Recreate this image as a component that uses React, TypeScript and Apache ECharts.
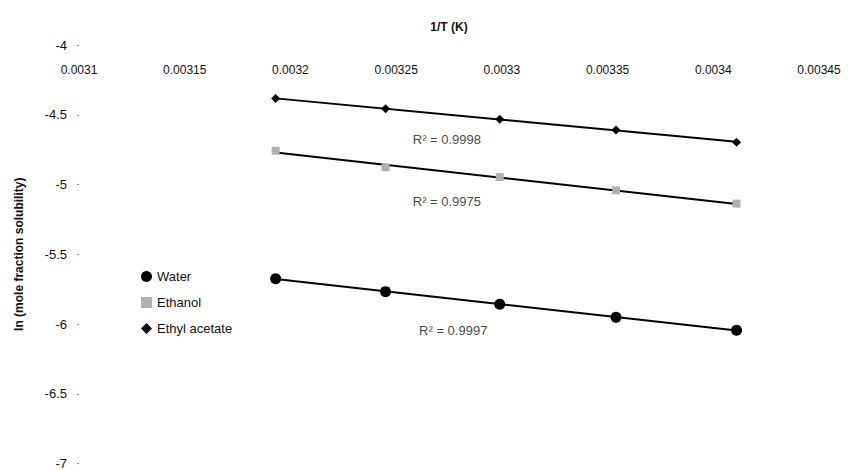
import React, { useEffect, useRef } from "react";
import * as echarts from "echarts";

// 1/T values (K^-1)
const xValues = [0.003193, 0.003245, 0.003299, 0.003354, 0.003411];
// ln(mole fraction solubility)
const waterY = [-5.675, -5.768, -5.858, -5.952, -6.045];
const ethanolY = [-4.758, -4.877, -4.947, -5.042, -5.137];
const ethylAcetateY = [-4.384, -4.457, -4.533, -4.609, -4.697];

const seriesNames = ["Water", "Ethanol", "Ethyl acetate"];
const r2Labels = ["R² = 0.9997", "R² = 0.9975", "R² = 0.9998"];
// annotation anchors in data coords [x, y]
const r2AnchorX = [0.003277, 0.003274, 0.003274];
const r2AnchorY = [-6.047, -5.123, -4.675];

const FONT = "'Liberation Sans', Arial, sans-serif";

function fitLine(xs: number[], ys: number[]): number[][] {
  const n = xs.length;
  const mx = xs.reduce((a, b) => a + b, 0) / n;
  const my = ys.reduce((a, b) => a + b, 0) / n;
  let sxy = 0;
  let sxx = 0;
  for (let i = 0; i < n; i++) {
    sxy += (xs[i] - mx) * (ys[i] - my);
    sxx += (xs[i] - mx) * (xs[i] - mx);
  }
  const slope = sxy / sxx;
  const icpt = my - slope * mx;
  const x0 = Math.min(...xs);
  const x1 = Math.max(...xs);
  return [
    [x0, icpt + slope * x0],
    [x1, icpt + slope * x1],
  ];
}

export default function App() {
  const ref = useRef<HTMLDivElement>(null);

  useEffect(() => {
    if (!ref.current) return;
    const chart = echarts.init(ref.current, undefined, { renderer: "svg" });
    const allY = [waterY, ethanolY, ethylAcetateY];
    const symbols = ["circle", "rect", "diamond"];
    const sizes = [11, 8, 9];
    const colors = ["#000000", "#b0b0b0", "#000000"];

    const scatterSeries = allY.map((ys, i) => ({
      name: seriesNames[i],
      type: "scatter",
      symbol: symbols[i],
      symbolSize: sizes[i],
      itemStyle: { color: colors[i], opacity: 1 },
      data: xValues.map((x, j) => [x, ys[j]]),
      z: 3,
    }));

    const trendSeries = allY.map((ys, i) => ({
      name: "trend" + i,
      type: "line",
      symbol: "none",
      lineStyle: { color: "#000", width: 2 },
      data: fitLine(xValues, ys),
      z: 2,
    }));

    const annotationSeries = {
      name: "r2",
      type: "scatter",
      symbolSize: 0,
      silent: true,
      data: r2Labels.map((t, i) => ({
        value: [r2AnchorX[i], r2AnchorY[i]],
        label: {
          show: true,
          position: "inside",
          formatter: t,
          color: "#111",
          fontSize: 13,
          fontFamily: FONT,
        },
      })),
    };

    chart.setOption({
      animation: false,
      backgroundColor: "#ffffff",
      textStyle: { fontFamily: FONT },
      grid: { left: 79, right: 30, top: 45, bottom: 3, containLabel: false },
      legend: {
        data: seriesNames.map((n) => ({ name: n, itemStyle: { opacity: 1 } })),
        orient: "vertical",
        left: 136,
        top: 265,
        itemGap: 13,
        itemWidth: 11,
        itemHeight: 11,
        textStyle: { fontSize: 13, color: "#111", fontFamily: FONT },
      },
      xAxis: {
        type: "value",
        position: "top",
        min: 0.0031,
        max: 0.00345,
        interval: 0.00005,
        name: "1/T (K)",
        nameLocation: "middle",
        nameGap: 12,
        nameTextStyle: { fontSize: 12, fontWeight: "bold", color: "#111", fontFamily: FONT },
        axisLine: { show: false },
        axisTick: { show: false },
        splitLine: { show: false },
        axisLabel: {
          inside: true,
          margin: 19,
          fontSize: 12,
          color: "#111",
          fontFamily: FONT,
          formatter: (v: number) => String(parseFloat(v.toFixed(6))),
        },
      },
      yAxis: {
        type: "value",
        min: -7,
        max: -4,
        interval: 0.5,
        name: "ln (mole fraction solubility)",
        nameLocation: "middle",
        nameGap: 54,
        nameTextStyle: { fontSize: 12, fontWeight: "bold", color: "#111", fontFamily: FONT },
        axisLine: { show: false },
        axisTick: { show: true, length: 2, lineStyle: { color: "#888" } },
        splitLine: { show: false },
        axisLabel: { margin: 12, fontSize: 13, color: "#111", fontFamily: FONT },
      },
      series: [...trendSeries, ...scatterSeries, annotationSeries],
    });

    return () => chart.dispose();
  }, []);

  return (
    <div
      ref={ref}
      style={{ position: "fixed", left: 0, top: 0, width: 849, height: 470, background: "#fff" }}
    />
  );
}
